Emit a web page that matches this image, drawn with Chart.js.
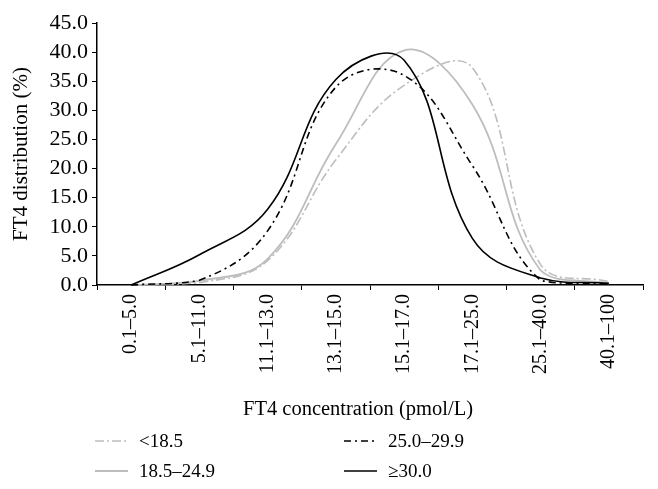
<!DOCTYPE html>
<html>
<head>
<meta charset="utf-8">
<script src="https://cdn.jsdelivr.net/npm/chart.js@4"></script>
<style>
  html, body { margin: 0; padding: 0; background: #fff; }
  #wrap { position: relative; width: 658px; height: 489px; }
  #legend { position: absolute; left: 0; top: 0; width: 658px; height: 489px; pointer-events: none;
            font-family: "Liberation Serif", serif; font-size: 19px; color: #000; }
  .item { position: absolute; display: flex; align-items: center; height: 24px; white-space: nowrap; }
  .item svg { margin-right: 11px; }
  #xtitle { position: absolute; left: 158px; width: 400px; top: 395px; text-align: center; font-size: 20.5px; line-height: 26px; }
</style>
</head>
<body>
<div id="wrap">
  <canvas id="chart" width="658" height="489"></canvas>
  <div id="legend"><div id="xtitle">FT4 concentration (pmol/L)</div></div>
</div>
<script>
// FT4 concentration bands (pmol/L)
const categories = ['0.1–5.0', '5.1–11.0', '11.1–13.0', '13.1–15.0', '15.1–17.0', '17.1–25.0', '25.1–40.0', '40.1–100'];

// FT4 distribution (%) per BMI group
const bmiUnder185 = [0, 0.4, 4.2, 21.5, 34.3, 37.3, 3.5, 0.6];
const bmi185to249 = [0, 0.7, 4.5, 24.2, 40.3, 31.0, 2.5, 0.3];
const bmi250to299 = [0, 0.8, 9.3, 34.0, 36.0, 20.5, 0.8, 0.2];
const bmiOver30 = [0, 5.2, 13.0, 35.3, 38.6, 8.0, 1.2, 0.3];

const seriesLabels = ['<18.5', '18.5–24.9', '25.0–29.9', '≥30.0'];

const FONT = '"Liberation Serif", serif';
const GRAY = '#bdbdbd';

const datasets = [
  { label: seriesLabels[0], data: bmiUnder185, borderColor: GRAY, borderWidth: 1.6, borderDash: [9, 3, 2, 3], order: 3 },
  { label: seriesLabels[1], data: bmi185to249, borderColor: GRAY, borderWidth: 1.8, borderDash: [], order: 2 },
  { label: seriesLabels[2], data: bmi250to299, borderColor: '#000', borderWidth: 1.6, borderDash: [7, 4, 2, 4], order: 1 },
  { label: seriesLabels[3], data: bmiOver30, borderColor: '#000', borderWidth: 1.6, borderDash: [], order: 0 }
].map(d => Object.assign(d, { fill: false, pointRadius: 0, tension: 0.4, clip: false }));

const ctx = document.getElementById('chart').getContext('2d');
new Chart(ctx, {
  type: 'line',
  data: { labels: categories, datasets: datasets },
  options: {
    responsive: false,
    animation: false,
    layout: { padding: { top: 23, right: 15, bottom: 70, left: 0 } },
    plugins: { legend: { display: false }, tooltip: { enabled: false } },
    scales: {
      x: {
        offset: true,
        afterFit: (scale) => { scale.height = 134; },
        grid: { offset: true, drawOnChartArea: false, drawTicks: true, tickLength: 5, color: '#000' },
        border: { color: '#000', width: 1.5 },
        ticks: { color: '#000', font: { family: FONT, size: 20 }, minRotation: 90, maxRotation: 90, padding: 4, autoSkip: false },
        title: { display: false }
      },
      y: {
        min: 0,
        max: 45,
        afterFit: (scale) => { scale.width = 97; },
        grid: { drawOnChartArea: false, drawTicks: true, tickLength: 5, color: '#000' },
        border: { color: '#000', width: 1.5 },
        ticks: { stepSize: 5, autoSkip: false, color: '#000', font: { family: FONT, size: 22 }, padding: 4, callback: (v) => v.toFixed(1) },
        title: { display: true, text: 'FT4 distribution (%)', color: '#000', font: { family: FONT, size: 21 }, padding: { top: 9, bottom: 0 } }
      }
    }
  }
});

// legend in two columns, like the figure
const legendSpots = [[95, 441], [95, 471], [344, 441], [344, 471]];
const legendBox = document.getElementById('legend');
datasets.forEach((d, i) => {
  const item = document.createElement('div');
  item.className = 'item';
  item.style.left = legendSpots[i][0] + 'px';
  item.style.top = (legendSpots[i][1] - 12) + 'px';
  const dash = d.borderDash.length ? ' stroke-dasharray="' + d.borderDash.join(' ') + '"' : '';
  item.innerHTML = '<svg width="33" height="6"><line x1="0" y1="3" x2="33" y2="3" stroke="' + d.borderColor +
    '" stroke-width="' + d.borderWidth + '"' + dash + '/></svg><span>' + d.label + '</span>';
  legendBox.appendChild(item);
});
</script>
</body>
</html>
